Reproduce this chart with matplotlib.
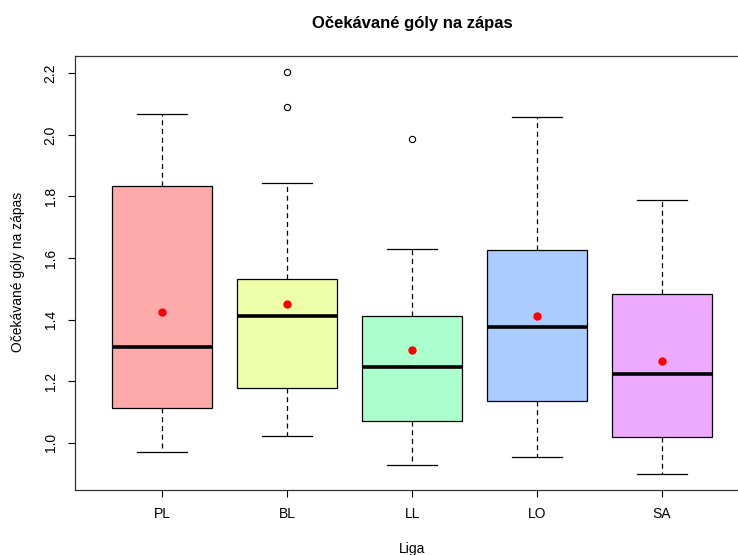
import matplotlib.pyplot as plt

plt.rcParams['font.family'] = ['Liberation Sans', 'DejaVu Sans']

# hodnoty
ligy = ['PL', 'BL', 'LL', 'LO', 'SA']
whislo = [0.969, 1.023, 0.927, 0.953, 0.900]
q1 = [1.112, 1.177, 1.071, 1.136, 1.020]
median = [1.312, 1.411, 1.245, 1.377, 1.223]
q3 = [1.835, 1.531, 1.411, 1.627, 1.483]
whishi = [2.067, 1.844, 1.631, 2.057, 1.788]
prumer = [1.424, 1.452, 1.303, 1.412, 1.266]
odlehle = [[], [2.203, 2.092], [1.988], [], []]
barvy = ['#FFAAAA', '#EEFFAA', '#AAFFCC', '#AACCFF', '#EEAAFF']

stats = []
for i in range(len(ligy)):
    stats.append({'label': ligy[i], 'whislo': whislo[i], 'q1': q1[i], 'med': median[i],
                  'q3': q3[i], 'whishi': whishi[i], 'fliers': odlehle[i]})

fig = plt.figure(figsize=(7.38, 5.55), dpi=100)
ax = fig.add_axes([75 / 738, 1 - 490 / 555, (749.5 - 75) / 738, (490 - 55.7) / 555])

pozice = list(range(1, len(ligy) + 1))
bp = ax.bxp(stats, positions=pozice, widths=0.8, patch_artist=True,
            boxprops=dict(edgecolor='black', linewidth=0.9),
            medianprops=dict(color='black', linewidth=2.6, solid_capstyle='butt'),
            whiskerprops=dict(color='black', linewidth=0.9, linestyle=(0, (4, 3))),
            capprops=dict(color='black', linewidth=0.9),
            capwidths=0.4,
            flierprops=dict(marker='o', markerfacecolor='none', markeredgecolor='black',
                            markersize=4.5, markeredgewidth=0.8))
for patch, c in zip(bp['boxes'], barvy):
    patch.set_facecolor(c)

ax.plot(pozice, prumer, 'o', color='red', markersize=5, linestyle='none', zorder=5)

ax.set_xlim(0.3, 5.7)
ax.set_ylim(0.847, 2.257)
ax.set_xticks(pozice)
ax.set_xticklabels(ligy)
ax.set_yticks([1.0, 1.2, 1.4, 1.6, 1.8, 2.0, 2.2])
ax.set_yticklabels(['1.0', '1.2', '1.4', '1.6', '1.8', '2.0', '2.2'], rotation=90, va='center')
ax.tick_params(axis='both', labelsize=10, length=5, width=0.8, colors='black')
ax.tick_params(axis='x', pad=7.5)
ax.tick_params(axis='y', pad=7.5)
for s in ax.spines.values():
    s.set_linewidth(0.9)
    s.set_color('#333333')

ax.set_title('Očekávané góly na zápas', fontsize=12, fontweight='bold', pad=20)
fig.text(18 / 738, 1 - 272 / 555, 'Očekávané góly na zápas', rotation=90,
         ha='center', va='center', fontsize=10)
fig.text(412 / 738, 1 - 549 / 555, 'Liga', ha='center', va='center', fontsize=10)

fig.savefig('out.png', dpi=100)
